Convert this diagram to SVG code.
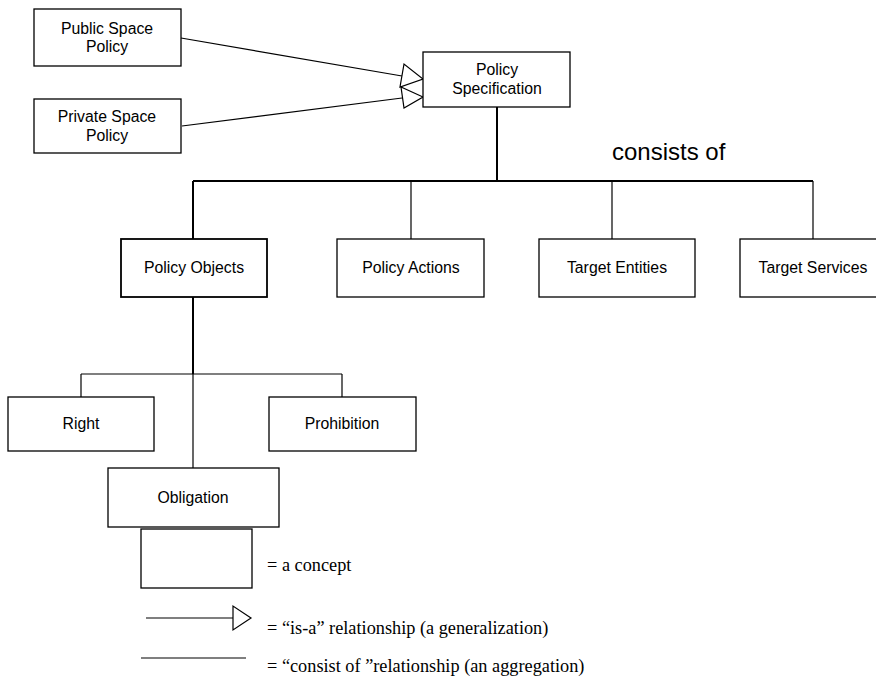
<svg xmlns="http://www.w3.org/2000/svg" width="876" height="677" viewBox="0 0 876 677">
<style>
.box{fill:#fff;stroke:#000;stroke-width:1.3}
.t{font-family:"Liberation Sans",Arial,sans-serif;font-size:15.8px;text-anchor:middle;fill:#000}
.ln{fill:none;stroke:#000;stroke-width:1.2}
.thick{fill:none;stroke:#000;stroke-width:2}
.tri{fill:#fff;stroke:#000;stroke-width:1.2}
.leg{font-family:"Liberation Serif","Times New Roman",serif;font-size:18.3px;fill:#000}
</style>
<rect width="876" height="677" fill="#fff"/>
<g id="connectors">
<line class="ln" x1="181" y1="38" x2="402" y2="76"/>
<line class="ln" x1="182" y1="126" x2="402" y2="98"/>
<polygon class="tri" points="404,64 400,87 423,79"/>
<polygon class="tri" points="401,87 404,108 423,97"/>
<line class="thick" x1="497" y1="107" x2="497" y2="181"/>
<line class="thick" x1="193" y1="181" x2="813" y2="181"/>
<line class="thick" x1="193" y1="181" x2="193" y2="239"/>
<line class="ln" x1="411" y1="181" x2="411" y2="239"/>
<line class="ln" x1="612" y1="181" x2="612" y2="239"/>
<line class="ln" x1="813" y1="181" x2="813" y2="239"/>
<line class="thick" x1="193" y1="297" x2="193" y2="374"/>
<line class="ln" x1="81" y1="374" x2="342" y2="374"/>
<line class="ln" x1="81" y1="374" x2="81" y2="397"/>
<line class="ln" x1="342" y1="374" x2="342" y2="397"/>
<line class="ln" x1="193" y1="374" x2="193" y2="468"/>
</g>
<g id="public-space-policy"><rect class="box" x="34" y="9" width="147" height="57"/><text class="t" x="107" y="34">Public Space</text><text class="t" x="107" y="52">Policy</text></g>
<g id="private-space-policy"><rect class="box" x="34" y="99" width="147" height="54"/><text class="t" x="107" y="122">Private Space</text><text class="t" x="107" y="141">Policy</text></g>
<g id="policy-specification"><rect class="box" x="423" y="52" width="147" height="55"/><text class="t" x="497" y="75">Policy</text><text class="t" x="497" y="94">Specification</text></g>
<text x="612" y="160" style="font-family:'Liberation Sans',Arial,sans-serif;font-size:24px;fill:#000">consists of</text>
<g id="policy-objects"><rect class="box" x="121" y="239" width="146" height="58" style="stroke-width:1.8"/><text class="t" x="194" y="273">Policy Objects</text></g>
<g id="policy-actions"><rect class="box" x="337" y="239" width="147" height="58"/><text class="t" x="411" y="273">Policy Actions</text></g>
<g id="target-entities"><rect class="box" x="539" y="239" width="156" height="58"/><text class="t" x="617" y="273">Target Entities</text></g>
<g id="target-services"><rect class="box" x="740" y="239" width="137" height="58"/><text class="t" x="813" y="273">Target Services</text></g>
<g id="right"><rect class="box" x="8" y="397" width="146" height="54"/><text class="t" x="81" y="429">Right</text></g>
<g id="prohibition"><rect class="box" x="269" y="397" width="147" height="54"/><text class="t" x="342" y="429">Prohibition</text></g>
<g id="obligation"><rect class="box" x="108" y="468" width="171" height="59"/><text class="t" x="193" y="503">Obligation</text></g>
<g id="legend">
<rect class="box" x="141" y="529" width="111" height="59"/>
<text class="leg" x="267" y="571">= a concept</text>
<line class="ln" x1="146" y1="618" x2="233" y2="618"/>
<polygon class="tri" points="233,606 233,630 251,618"/>
<text class="leg" x="267" y="634">= “is-a” relationship (a generalization)</text>
<line class="ln" x1="141" y1="658" x2="246" y2="658"/>
<text class="leg" x="267" y="672">= “consist of ”relationship (an aggregation)</text>
</g>
</svg>
